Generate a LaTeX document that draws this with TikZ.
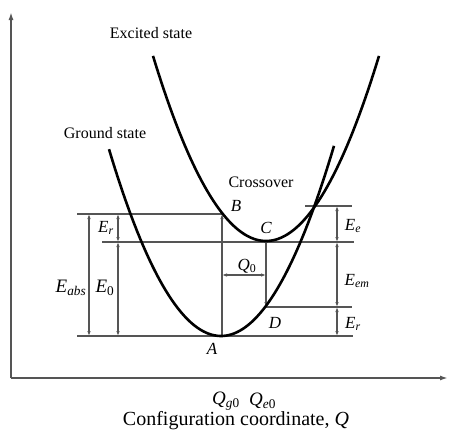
\documentclass[tikz,border=0pt]{standalone}
\usepackage{fontspec}
\setmainfont{Liberation Serif}
\usetikzlibrary{arrows.meta, positioning}
\definecolor{linegray}{RGB}{85,85,85}
\newcommand{\sym}[2]{\textit{#1}\textsubscript{#2}}

\begin{document}
\begin{tikzpicture}[
        x=1pt, y=-1pt,
        curve/.style={draw, line width=2.6pt, black},
        level/.style={draw, line width=1.1pt, linegray},
        dim/.style={draw, line width=1.1pt, linegray, {Latex[length=5pt, width=3.5pt]}-{Latex[length=5pt, width=3.5pt]}},
        arrow/.style={draw, line width=1.1pt, linegray, -{Latex[length=5pt, width=3.5pt]}},
        axis/.style={draw, line width=1.6pt, linegray, -{Latex[length=8pt, width=5pt]}},
        lbl/.style={font=\fontsize{16}{18}\selectfont, inner sep=0pt},
        mlbl/.style={font=\fontsize{17}{19}\selectfont, inner sep=0pt},
        biglbl/.style={font=\fontsize{19}{21}\selectfont, inner sep=0pt}
    ]
        \useasboundingbox (0,0) rectangle (450,434);

        % axes
        \coordinate (O) at (11,378);
        \coordinate (ytip) at (11,12);
        \coordinate (xtip) at (448,378);
        \path [axis] (O) -- (ytip);
        \path [axis] (O) -- (xtip);

        % energy levels
        \coordinate (B) at (222,214);
        \coordinate (Bl) at (77,214);
        \coordinate (C) at (266,242);
        \coordinate (Cl) at (102,242);
        \coordinate (Cr) at (354,242);
        \coordinate (A) at (222,336);
        \coordinate (Al) at (77,336);
        \coordinate (Ar) at (353,336);
        \coordinate (D) at (266,307);
        \coordinate (Dr) at (352,307);
        \coordinate (Xl) at (305,206);
        \coordinate (Xr) at (352,206);
        \path [level] (Bl) -- (B);
        \path [level] (Cl) -- (Cr);
        \path [level] (Al) -- (Ar);
        \path [level] (D) -- (Dr);
        \path [level] (Xl) -- (Xr);

        % columns for the energy spans
        \coordinate (colabs) at (89,0);
        \coordinate (colleft) at (118,0);
        \coordinate (colright) at (337,0);
        \coordinate (rowq) at (0,275);

        \path [dim] (colabs |- B) -- (colabs |- A);
        \path [dim] (colleft |- B) -- (colleft |- C);
        \path [dim] (colleft |- C) -- (colleft |- A);
        \path [dim] (colright |- Xr) -- (colright |- C);
        \path [dim] (colright |- C) -- (colright |- D);
        \path [dim] (colright |- D) -- (colright |- A);
        \path [dim] (A |- rowq) -- (C |- rowq);
        \path [arrow] (A) -- (B);
        \path [arrow] (C) -- (D);

        % potential curves
        \draw [curve] plot [domain=109:334, samples=80] (\x, {336-0.0149*(\x-221)^2});
        \draw [curve] plot [domain=153:379, samples=80] (\x, {241-0.0145*(\x-266)^2});

        % labels
        \node [lbl] (excited) at (151,33) {Excited state};
        \node [lbl] (ground) at (105,133) {Ground state};
        \node [lbl] (cross) at (261,182) {Crossover};
        \node [mlbl] (labB) at (236,206) {\textit{B}};
        \node [mlbl] (labC) at (266,228) {\textit{C}};
        \node [mlbl] (labD) at (275,323) {\textit{D}};
        \node [mlbl] (labA) at (212,349) {\textit{A}};
        \node [mlbl] (labQ0) at (247,266) {\sym{Q}{0}};
        \node [mlbl] (labEe) at (353,226) {\sym{E}{\textit{e}}};
        \node [mlbl] (labEem) at (357,281) {\sym{E}{\textit{em}}};
        \node [mlbl] (labErr) at (353,324) {\sym{E}{\textit{r}}};
        \node [mlbl] (labErl) at (106,228) {\sym{E}{\textit{r}}};
        \node [biglbl] (labEabs) at (71,288) {\sym{E}{\textit{abs}}};
        \node [biglbl] (labE0) at (105,288) {\sym{E}{0}};
        \node [biglbl] (labQg) at (226,401) {\sym{Q}{\textit{g}0}};
        \node [biglbl, right=9pt of labQg] (labQe) {\sym{Q}{\textit{e}0}};
        \node [font=\fontsize{20}{22}\selectfont, inner sep=0pt] (caption) at (236,421) {Configuration coordinate, \textit{Q}};
    \end{tikzpicture}
\end{document}
